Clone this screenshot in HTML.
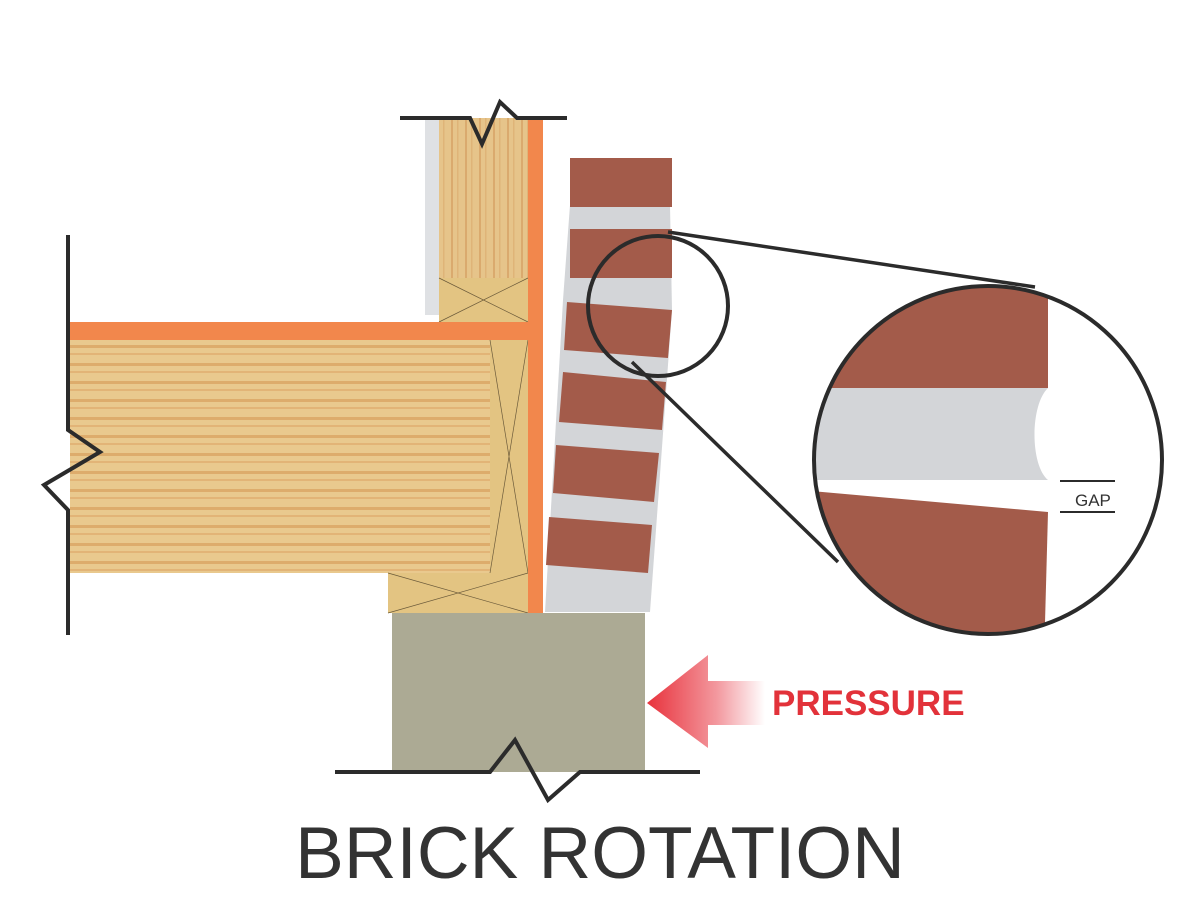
<!DOCTYPE html>
<html><head><style>body{margin:0;background:#fff}svg{display:block}</style></head><body>
<svg width="1200" height="900" viewBox="0 0 1200 900" xmlns="http://www.w3.org/2000/svg">
<defs>
<pattern id="hg" width="400" height="18" patternUnits="userSpaceOnUse"><rect width="400" height="18" fill="#e9c98e"/><rect y="3" width="400" height="3" fill="#d9a05e" opacity=".7"/><rect y="11" width="400" height="2" fill="#dda767" opacity=".6"/></pattern>
<pattern id="vg" width="14" height="200" patternUnits="userSpaceOnUse"><rect width="14" height="200" fill="#e6c48a"/><rect x="3" width="2" height="200" fill="#d29a5c" opacity=".6"/><rect x="9" width="1.5" height="200" fill="#d7a466" opacity=".5"/></pattern>
<linearGradient id="ar" x1="0" x2="1"><stop offset="0" stop-color="#e8323c"/><stop offset=".6" stop-color="#f39aa0"/><stop offset="1" stop-color="#fff"/></linearGradient>
<clipPath id="cc"><circle cx="988" cy="460" r="174"/></clipPath>
</defs>
<rect x="425" y="118" width="14" height="197" fill="#dfe1e4"/>
<rect x="439" y="118" width="89" height="160" fill="url(#vg)"/>
<rect x="439" y="278" width="89" height="44" fill="#e3c482"/>
<path d="M439 278L528 322M528 278L439 322" stroke="#6b5a3a" stroke-width=".7"/>
<rect x="70" y="322" width="458" height="18" fill="#f2874c"/>
<rect x="70" y="340" width="420" height="233" fill="url(#hg)"/>
<rect x="490" y="340" width="38" height="233" fill="#e3c482"/>
<path d="M490 340L528 573M528 340L490 573" stroke="#6b5a3a" stroke-width=".7"/>
<rect x="388" y="573" width="140" height="40" fill="#e3c482"/>
<path d="M388 573L528 613M528 573L388 613" stroke="#6b5a3a" stroke-width=".7"/>
<rect x="528" y="118" width="15" height="495" fill="#f2874c"/>
<rect x="392" y="613" width="253" height="159" fill="#acaa94"/>
<polygon points="570,205 670,205 672,310 650,612 545,612 563,300" fill="#d3d5d8"/>
<g fill="#a35b4a">
<rect x="570" y="158" width="102" height="49"/>
<rect x="570" y="229" width="102" height="49"/>
<polygon points="567,302 672,310 668,358 564,350"/>
<polygon points="563,372 666,382 662,430 559,422"/>
<polygon points="556,445 659,453 654,502 553,493"/>
<polygon points="549,517 652,525 648,573 546,565"/>
</g>
<path d="M400 118H470L482 144L500 102L517 118H567" fill="none" stroke="#2b2b2b" stroke-width="4"/>
<path d="M68 235V430L100 452L44 485L68 510V635" fill="none" stroke="#2b2b2b" stroke-width="4"/>
<path d="M335 772H490L515 740L548 800L580 772H700" fill="none" stroke="#2b2b2b" stroke-width="4"/>
<circle cx="658" cy="306" r="70" fill="none" stroke="#2b2b2b" stroke-width="4"/>
<path d="M668 232L1035 287M632 362L838 562" stroke="#2b2b2b" stroke-width="3.5"/>
<circle cx="988" cy="460" r="174" fill="#fff"/>
<g clip-path="url(#cc)">
<rect x="800" y="280" width="248" height="108" fill="#a35b4a"/>
<path d="M800 388H1048C1030 405 1030 465 1048 480H800Z" fill="#d3d5d8"/>
<polygon points="800,490 1048,512 1044,660 800,660" fill="#a35b4a"/>
</g>
<circle cx="988" cy="460" r="174" fill="none" stroke="#2b2b2b" stroke-width="4"/>
<path d="M1060 481H1115M1060 512H1115" stroke="#2b2b2b" stroke-width="2"/>
<text x="1075" y="506" font-family="Liberation Sans,sans-serif" font-size="17" fill="#333">GAP</text>
<polygon points="647,703 708,655 708,681 765,681 765,725 708,725 708,748" fill="url(#ar)"/>
<text x="772" y="715" font-family="Liberation Sans,sans-serif" font-weight="bold" font-size="35" fill="#e2323a">PRESSURE</text>
<text x="600" y="878" text-anchor="middle" font-family="Liberation Sans,sans-serif" font-size="73" fill="#333">BRICK ROTATION</text>
</svg>
</body></html>
